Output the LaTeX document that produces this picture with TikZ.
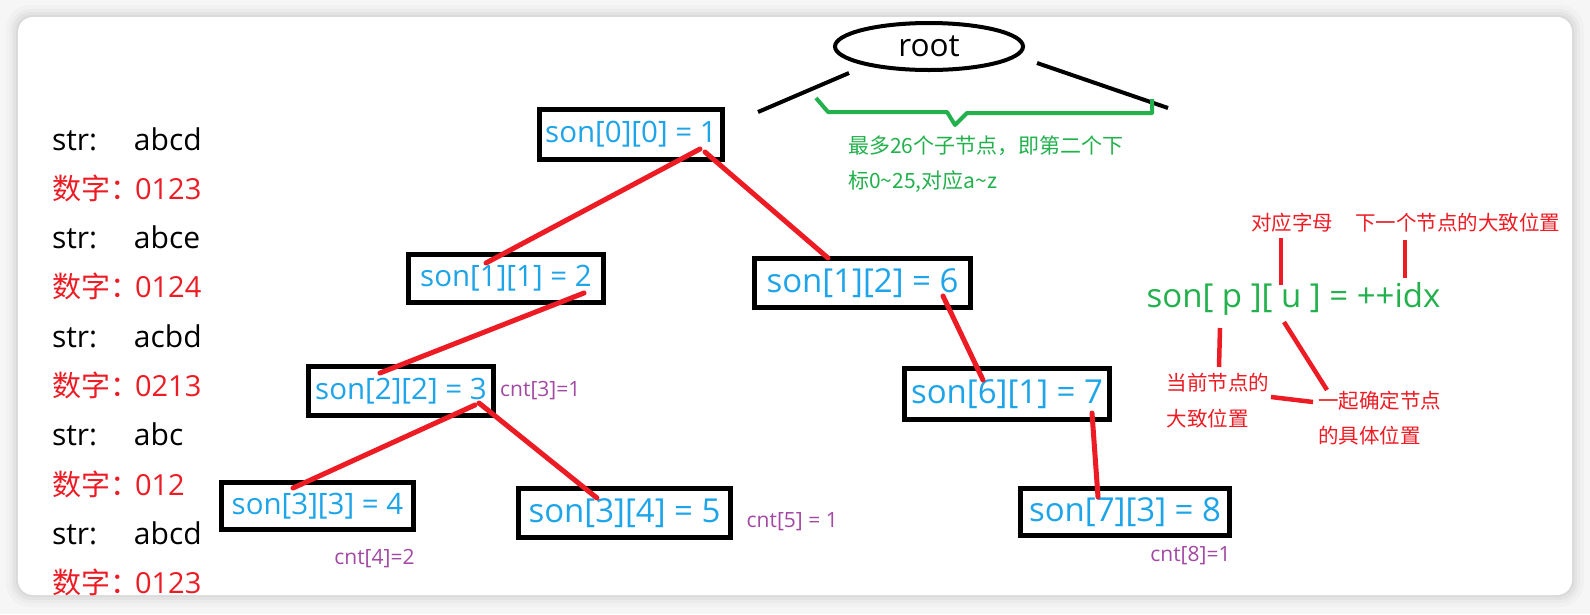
\documentclass[tikz,border=0pt]{standalone}
\usepackage{fontspec}
\setmainfont{Open Sans}
\newfontfamily\cjk{Noto Sans CJK SC}
\usetikzlibrary{shapes,positioning}

\definecolor{sonblue}{RGB}{30,164,232}
\definecolor{trred}{RGB}{237,28,36}
\definecolor{trgreen}{RGB}{34,177,76}
\definecolor{cntpurple}{RGB}{163,73,164}
\definecolor{bggray}{RGB}{246,246,246}

\begin{document}
\begin{tikzpicture}[
    x=1pt, y=-1pt,
    node distance = 49.3pt,
    sonbox/.style = {draw, rectangle, line width=5pt, inner sep=0pt, outer sep=0pt,
                     minimum height=49pt, text=sonblue, font=\fontsize{29.5}{34}\selectfont},
    sonbig/.style = {sonbox, font=\fontsize{33}{38}\selectfont},
    cntlabel/.style = {inner sep=0pt, text=cntpurple, font=\fontsize{21}{25}\selectfont},
    strrow/.style = {inner sep=0pt, text width=170pt, align=left, font=\fontsize{30}{34}\selectfont},
    numrow/.style = {strrow, text=trred, font=\fontsize{29}{34}\selectfont},
    note/.style = {inner sep=0pt, align=left, text=trred, font=\cjk\fontsize{20.5}{35.5}\selectfont},
    edgeline/.style = {draw=trred, line width=5pt, line cap=round},
    pointer/.style = {draw=trred, line width=4.5pt},
  ]
    \useasboundingbox (0,0) rectangle (1590,614);

    % background card
    \fill[bggray] (0,0) rectangle (1590,614);
    \fill[black, opacity=0.02, rounded corners=24pt] (6,5) rectangle (1584,607);
    \fill[black, opacity=0.025, rounded corners=21pt] (10,9) rectangle (1580,603);
    \fill[black, opacity=0.03, rounded corners=18pt] (13,12) rectangle (1577,600);
    \fill[black, opacity=0.035, rounded corners=16pt] (16,15) rectangle (1574,597);
    \fill[white, rounded corners=15pt] (18,17) rectangle (1572,595);

    % strings and their numbers
    \node[strrow] (r1) at (137,139) {\makebox[82pt][l]{str:}abcd};
    \node[numrow, below of=r1] (r2) {\makebox[83pt][l]{\cjk 数字：}0123};
    \node[strrow, below of=r2] (r3) {\makebox[82pt][l]{str:}abce};
    \node[numrow, below of=r3] (r4) {\makebox[83pt][l]{\cjk 数字：}0124};
    \node[strrow, below of=r4] (r5) {\makebox[82pt][l]{str:}acbd};
    \node[numrow, below of=r5] (r6) {\makebox[83pt][l]{\cjk 数字：}0213};
    \node[strrow, below of=r6] (r7) {\makebox[82pt][l]{str:}abc};
    \node[numrow, below of=r7] (r8) {\makebox[83pt][l]{\cjk 数字：}012};
    \node[strrow, below of=r8] (r9) {\makebox[82pt][l]{str:}abcd};
    \node[numrow, below of=r9] (r10) {\makebox[83pt][l]{\cjk 数字：}0123};

    % root and its fan
    \node[draw, ellipse, line width=4pt, inner sep=0pt, outer sep=0pt,
          minimum width=188pt, minimum height=47pt,
          font=\fontsize{31.5}{36}\selectfont] (root) at (929,46.5) {root};
    \coordinate (leftend) at (758,112);
    \coordinate (rightend) at (1168,108);
    \draw[line width=4pt] ([shift={(-80,3)}]root.south) -- (leftend);
    \draw[line width=4pt] ([shift={(108,-7)}]root.south) -- (rightend);
    \draw[trgreen, line width=4pt, line join=round]
        (816,98) -- (828,112) -- (947,112) -- (955,125) -- (967,113) -- (1152,113) -- (1152,99);
    \node[inner sep=0pt, align=left, anchor=west, text=trgreen,
          font=\cjk\fontsize{21}{35}\selectfont] (hint) at (848,164.5)
        {最多26个子节点，即第二个下\\标0\textasciitilde 25,对应a\textasciitilde z};

    % trie nodes
    \node[sonbox, minimum width=183pt, minimum height=50pt] (s00) at (631,134.5) {son[0][0] = 1};
    \node[sonbox, minimum width=195pt, minimum height=48pt] (s11) at (506,278.5) {son[1][1] = 2};
    \node[sonbig, minimum width=216pt] (s12) at (862.5,283) {son[1][2] = 6};
    \node[sonbox, minimum width=185pt] (s22) at (401,391) {son[2][2] = 3};
    \node[sonbox, minimum width=192pt, minimum height=47pt] (s33) at (317.5,506) {son[3][3] = 4};
    \node[sonbig, minimum width=212pt] (s34) at (624.5,513) {son[3][4] = 5};
    \node[sonbig, minimum width=205pt, minimum height=51pt] (s61) at (1007,394) {son[6][1] = 7};
    \node[sonbig, minimum width=209pt, minimum height=47pt] (s73) at (1125,512) {son[7][3] = 8};

    \node[cntlabel, right=6.5pt of s22] (cnt3) {cnt[3]=1};
    \node[cntlabel, right=16pt of s34, yshift=-9pt] (cnt5) {cnt[5] = 1};
    \node[cntlabel, below=20pt of s33, xshift=57pt] (cnt4) {cnt[4]=2};
    \node[cntlabel, below=11pt of s73, xshift=65.5pt] (cnt8) {cnt[8]=1};

    \draw[edgeline] ([shift={(-22.5,-10.5)}]s00.south east) -- ([shift={(77.5,8.5)}]s11.north west);
    \draw[edgeline] ([shift={(-17.5,-7.5)}]s00.south east) -- ([shift={(73.5,-0.5)}]s12.north west);
    \draw[edgeline] ([shift={(-19.5,-9.5)}]s11.south east) -- ([shift={(71.5,6.5)}]s22.north west);
    \draw[edgeline] ([shift={(-27.5,-11.5)}]s12.south east) -- ([shift={(78.5,11.5)}]s61.north west);
    \draw[edgeline] ([shift={(-18.5,-10.5)}]s22.south east) -- ([shift={(71.5,5.5)}]s33.north west);
    \draw[edgeline] ([shift={(-14.5,-12.5)}]s22.south east) -- ([shift={(78.5,9.5)}]s34.north west);
    \draw[edgeline] ([shift={(-17.5,-6.5)}]s61.south east) -- ([shift={(77.5,8.5)}]s73.north west);

    % formula with notes
    \node[inner sep=0pt, text=trgreen, font=\fontsize{33}{38}\selectfont] (formula) at (1293.5,299) {son[ p ][ u ] = ++idx};
    \node[note] (letter) at (1292,223) {对应字母};
    \node[note] (nextpos) at (1457.5,223) {下一个节点的大致位置};
    \node[note] (curpos) at (1218,400.5) {当前节点的\\大致位置};
    \node[note] (exact) at (1379.5,418) {一起确定节点\\的具体位置};

    \draw[pointer] ([shift={(-11,15)}]letter.center) -- ([shift={(-12.5,-14)}]formula.center);
    \draw[pointer] ([shift={(-52.5,17)}]nextpos.center) -- ([shift={(111.5,-21)}]formula.center);
    \draw[pointer] ([shift={(-73.5,29)}]formula.center) -- ([shift={(1,-33.5)}]curpos.center);
    \draw[pointer] ([shift={(-9.5,23)}]formula.center) -- ([shift={(-52.5,-28)}]exact.center);
    \draw[pointer] ([shift={(53,-3.5)}]curpos.center) -- ([shift={(-66.5,-16)}]exact.center);
\end{tikzpicture}
\end{document}
